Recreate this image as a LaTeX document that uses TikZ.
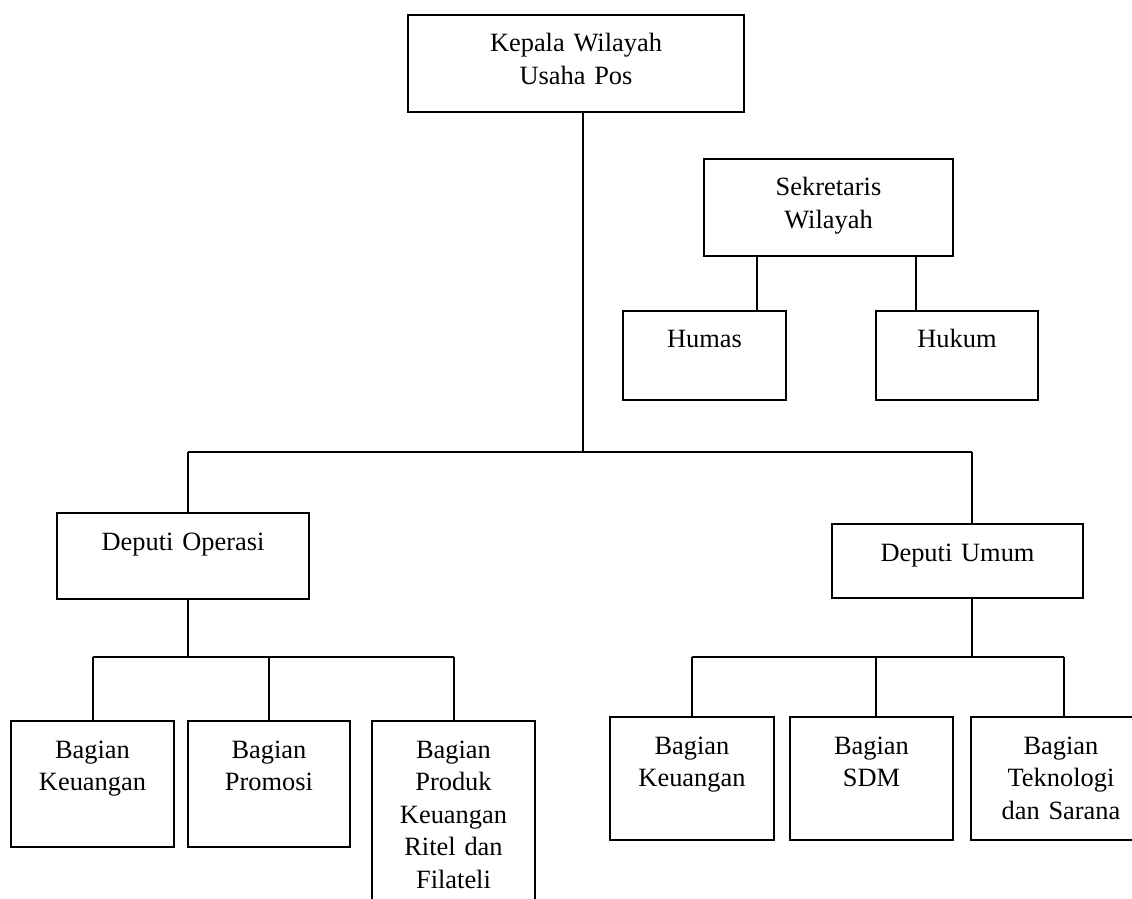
\documentclass[tikz,border=0pt]{standalone}
\usepackage{fontspec}
\setmainfont{Liberation Serif}
\usetikzlibrary{positioning}

\begin{document}
\begin{tikzpicture}[x=0.5pt, y=-0.5pt]
\tikzstyle{unit} = [rectangle, draw, line width=1pt, anchor=north, align=center, inner sep=0pt, text height=18.5pt, font=\fontsize{13.2}{16.3}\selectfont]
\tikzstyle{line} = [draw, line width=1pt]

\clip (0,0) rectangle (1132,899);

\node [unit, text width=168pt, text depth=30pt] (kepala) at (576,14) {Kepala Wilayah\\Usaha Pos};
\node [unit, text width=124.5pt, text depth=30pt] (sekretaris) at (828.5,158) {Sekretaris\\Wilayah};
\node [unit, text width=81.5pt, text depth=26pt] (humas) at (704.5,310) {Humas};
\node [unit, text width=81pt, text depth=26pt] (hukum) at (957,310) {Hukum};

\node [unit, text width=126pt, text depth=24.5pt] (depops) at (183,512) {Deputi Operasi};
\node [unit, text width=125.5pt, text depth=18.5pt] (depumum) at (957.5,523) {Deputi Umum};

\node [unit, text width=81.5pt, text depth=44.5pt] (keuops) at (92.5,720) {Bagian\\Keuangan};
\node [unit, text width=81pt, text depth=44.5pt] (promosi) at (269,720) {Bagian\\Promosi};
\node [unit, text width=81.5pt, text depth=101.5pt] (produk) at (453.5,720) {Bagian\\Produk\\Keuangan\\Ritel dan\\Filateli};

\node [unit, text width=82pt, text depth=43pt] (keuumum) at (692,716) {Bagian\\Keuangan};
\node [unit, text width=81.5pt, text depth=43pt] (sdm) at (871.5,716) {Bagian\\SDM};
\node [unit, text width=90pt, text depth=43pt] (tekno) at (1061,716) {Bagian\\Teknologi\\dan Sarana};

% junctions of the bus lines
\coordinate (bus) at (583,452);
\coordinate (busL) at (188,452);
\coordinate (busR) at (972,452);
\coordinate (junL) at (188,657);
\coordinate (junR) at (972,657);
\coordinate (sekL) at (757,0);
\coordinate (sekR) at (916,0);

\draw [line] (kepala.south -| bus) -- (bus);
\draw [line] (busL) -- (busR);
\draw [line] (busL) -- (depops.north -| busL);
\draw [line] (busR) -- (depumum.north -| busR);

\draw [line] (sekretaris.south -| sekL) -- (humas.north -| sekL);
\draw [line] (sekretaris.south -| sekR) -- (hukum.north -| sekR);

\draw [line] (depops.south -| junL) -- (junL);
\draw [line] (junL -| keuops.north) -- (junL -| produk.north);
\foreach \n in {keuops, promosi, produk}
  \draw [line] (junL -| \n.north) -- (\n.north);

\draw [line] (depumum.south -| junR) -- (junR);
\draw [line] (junR -| keuumum.north) -- (junR -| 1064,0);
\foreach \n/\x in {keuumum/692, sdm/876, tekno/1064}
  \draw [line] (junR -| \x,0) -- (\n.north -| \x,0);
\end{tikzpicture}
\end{document}
